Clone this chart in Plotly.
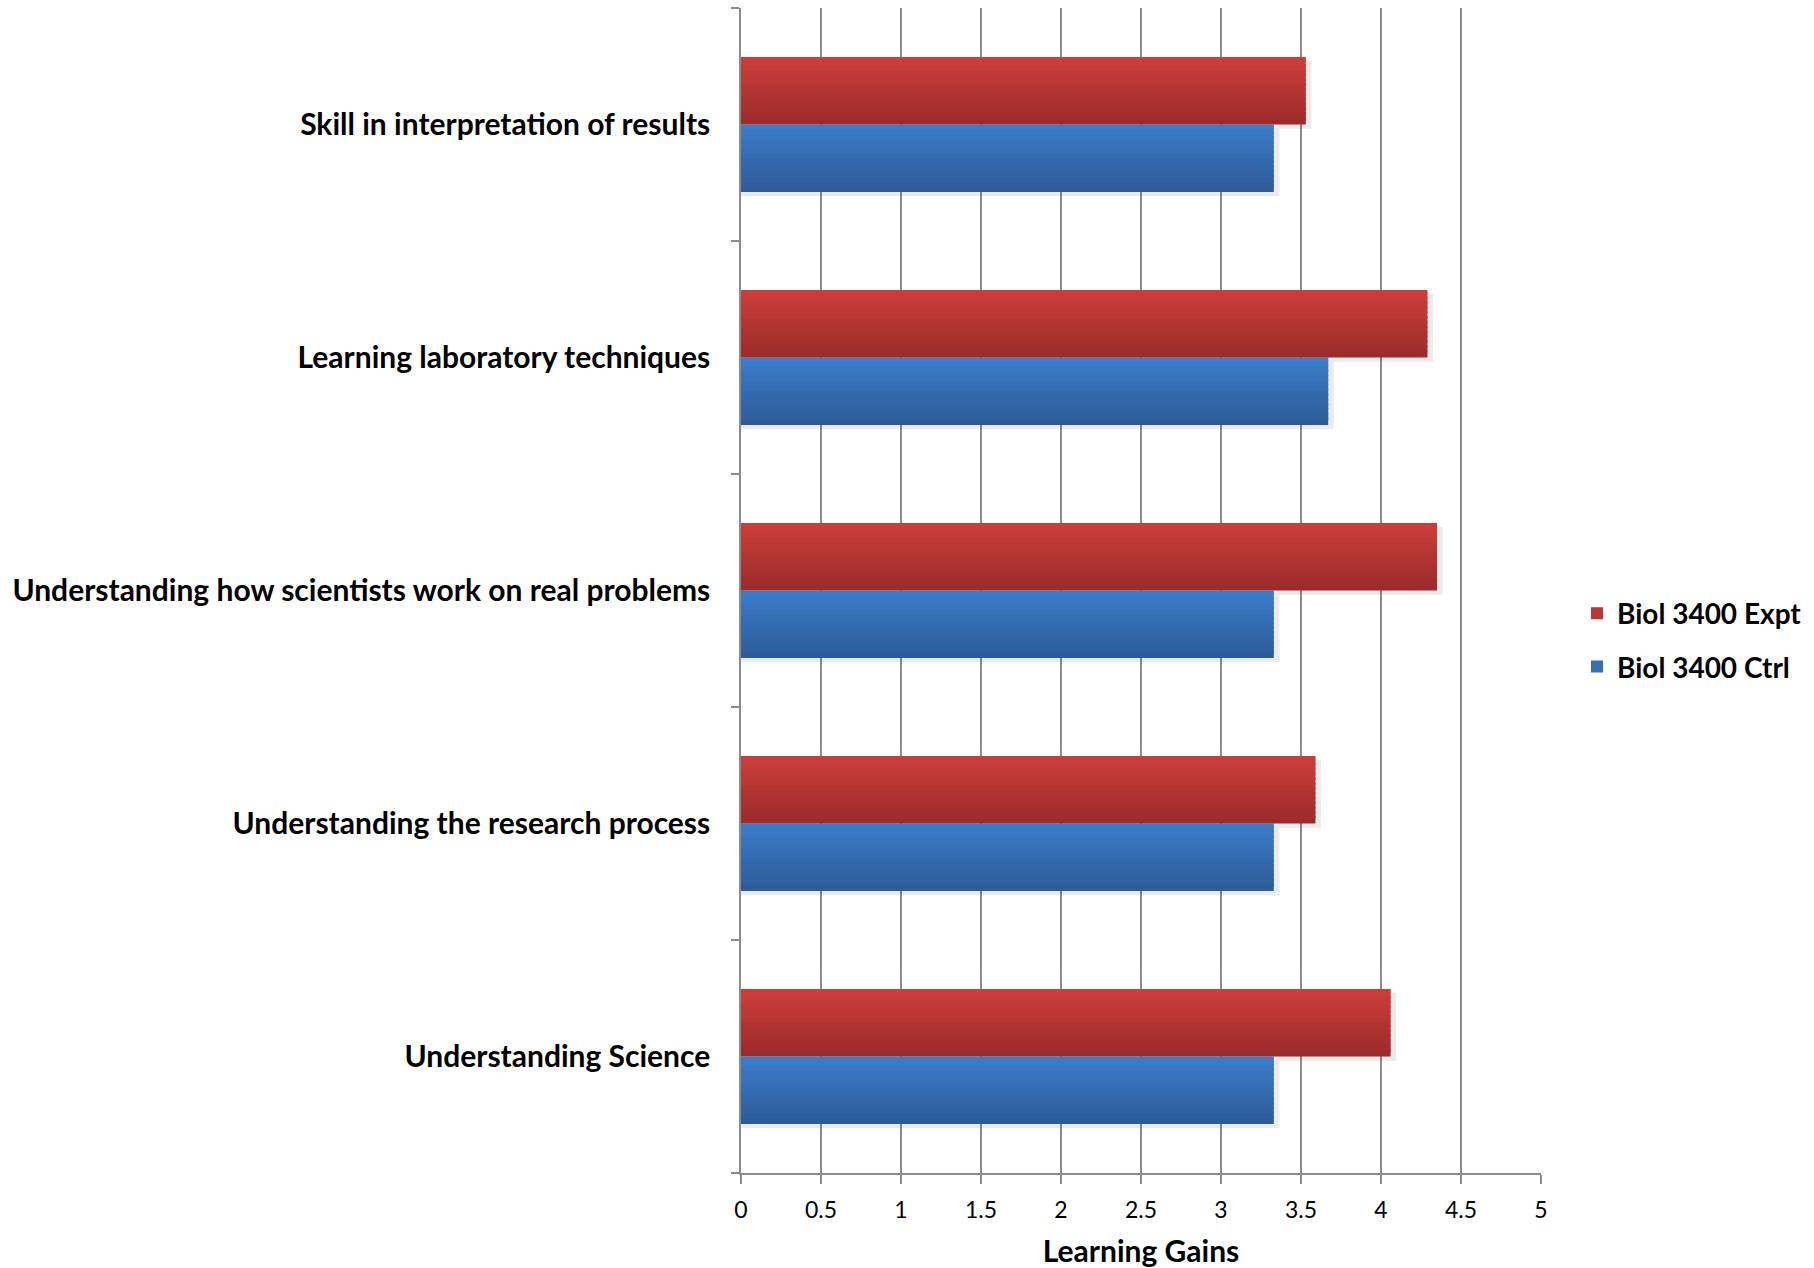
import plotly.graph_objects as go

# Survey outcomes, listed bottom-to-top as they appear on the chart
categories = [
    "Understanding Science",
    "Understanding the research process",
    "Understanding how scientists work on real problems",
    "Learning laboratory techniques",
    "Skill in interpretation of results",
]
ctrl_gains = [3.33, 3.33, 3.33, 3.67, 3.33]
expt_gains = [4.06, 3.59, 4.35, 4.29, 3.53]

series_names = ["Biol 3400 Ctrl", "Biol 3400 Expt"]

FONT = "Lato"
BAR_W = 0.29          # thickness of each bar in category units
N_SLICES = 14         # horizontal slices used to shade each bar top-to-bottom


def mix(c1, c2, t):
    return "#%02x%02x%02x" % tuple(round(a + (b - a) * t) for a, b in zip(c1, c2))


# (top colour, bottom colour, vertical offset of bar's lower edge, legend rank)
styles = {
    "Biol 3400 Ctrl": ((0x3C, 0x7D, 0xCB), (0x2C, 0x5A, 0x97), -BAR_W, 2),
    "Biol 3400 Expt": ((0xCE, 0x3E, 0x3B), (0x9A, 0x2B, 0x2A), 0.0, 1),
}
values = {"Biol 3400 Ctrl": ctrl_gains, "Biol 3400 Expt": expt_gains}

fig = go.Figure()

for name in series_names:
    top, bottom, base_off, _ = styles[name]
    vals = values[name]
    # soft drop shadow
    fig.add_trace(go.Bar(
        y=categories, x=[v + 0.035 for v in vals], orientation="h",
        offset=base_off - 0.018, width=BAR_W,
        marker=dict(color="rgba(0,0,0,0.08)", line=dict(width=0)),
        showlegend=False, hoverinfo="skip",
    ))

for name in series_names:
    top, bottom, base_off, rank = styles[name]
    vals = values[name]
    h = BAR_W / N_SLICES
    for i in range(N_SLICES):
        t = 1 - (i + 0.5) / N_SLICES  # 0 at the top edge, 1 at the bottom
        w = h * 1.6 if i < N_SLICES - 1 else h
        fig.add_trace(go.Bar(
            y=categories, x=vals, orientation="h",
            offset=base_off + i * h, width=w,
            marker=dict(color=mix(top, bottom, t), line=dict(width=0)),
            showlegend=False, hoverinfo="skip",
        ))
    # legend entry
    fig.add_trace(go.Bar(
        y=[None], x=[None], orientation="h", name=name,
        legendgroup=name, legendrank=rank,
        marker=dict(color=mix(top, bottom, 0.4), line=dict(width=0)),
        showlegend=True,
    ))

fig.update_layout(
    width=1814, height=1268,
    margin=dict(l=741, r=273, t=8, b=95, autoexpand=False),
    paper_bgcolor="white", plot_bgcolor="white",
    barmode="overlay",
    font=dict(family=FONT, color="black"),
    legend=dict(
        x=1.045, y=0.4575, xanchor="left", yanchor="middle",
        traceorder="grouped",
        font=dict(family=FONT, size=28, color="black", weight="bold"),
        itemwidth=30, tracegroupgap=14,
    ),
    xaxis=dict(
        range=[0, 5], dtick=0.5, tick0=0,
        showgrid=True, gridcolor="#8c8c8c", gridwidth=1.5,
        showline=True, linecolor="#8c8c8c", linewidth=1.5,
        ticks="outside", ticklen=9, tickcolor="#8c8c8c", tickwidth=1.5,
        tickfont=dict(family=FONT, size=23, color="black"),
        ticklabelstandoff=7,
        zeroline=False,
        title=dict(text="Learning Gains",
                   font=dict(family=FONT, size=30, color="black", weight="bold"),
                   standoff=19),
    ),
    yaxis=dict(
        type="category",
        showgrid=False,
        showline=True, linecolor="#8c8c8c", linewidth=1.5,
        ticks="outside", tickson="boundaries", ticklen=8,
        tickcolor="#8c8c8c", tickwidth=1.5,
        tickfont=dict(family=FONT, size=30, color="black", weight="bold"),
        ticklabelstandoff=23,
    ),
)

fig.write_html("out.html")
